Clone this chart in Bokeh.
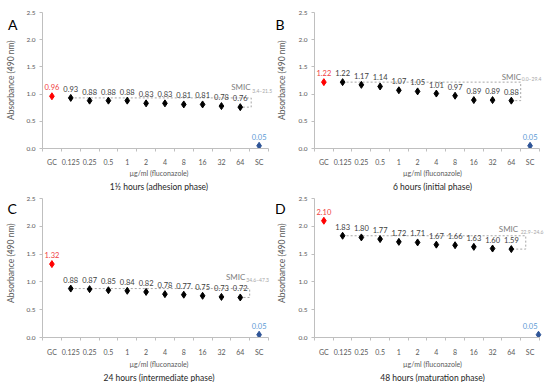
from math import pi
from bokeh.plotting import figure
from bokeh.layouts import column, row
from bokeh.models import (Range1d, FixedTicker, Label, ColumnDataSource, PrintfTickFormatter,
                          Title)
from bokeh.core.properties import value
from bokeh.embed import file_html
from bokeh.resources import INLINE

# ---------------- data ----------------
categories = ["GC", "0.125", "0.25", "0.5", "1", "2", "4", "8", "16", "32", "64", "SC"]
abs_adhesion = [0.96, 0.93, 0.88, 0.88, 0.88, 0.83, 0.83, 0.81, 0.81, 0.78, 0.76, 0.05]
abs_initial = [1.22, 1.22, 1.17, 1.14, 1.07, 1.05, 1.01, 0.97, 0.89, 0.89, 0.88, 0.05]
abs_intermediate = [1.32, 0.88, 0.87, 0.85, 0.84, 0.82, 0.78, 0.77, 0.75, 0.73, 0.72, 0.05]
abs_maturation = [2.10, 1.83, 1.80, 1.77, 1.72, 1.71, 1.67, 1.66, 1.63, 1.60, 1.59, 0.05]
panel_letters = ["A", "B", "C", "D"]
subtitles = ["1½ hours (adhesion phase)", "6 hours (initial phase)",
             "24 hours (intermediate phase)", "48 hours (maturation phase)"]
smic_ranges = ["3.4–21.5", "0.0–29.4", "34.6–47.3", "22.9–24.6"]
y_ticks = [0.0, 0.5, 1.0, 1.5, 2.0, 2.5]
x_label = "µg/ml (fluconazole)"
y_label = "Absorbance (490 nm)"

FONT = "Lato"
AXIS_COL = "#BFBFBF"
TICK_TXT = "#595959"
VAL_TXT = "#404040"
RED_M, RED_T = "#FF0000", "#F04040"
BLUE_M, BLUE_T = "#2F5597", "#5B9BD5"

SIDE_W = 20          # narrow strip holding the panel letter and the y-axis title
PANEL_W = 255
PANEL_H = 191

styles = [
    dict(bl=22, bt=12, bb=37, xend=11.87, tick_sd=6, xl_sd=0, t_off=-4,
         letter=(12.3, 16.5), ylab=(10.5, 95),
         smic=(10.03, 1.13), sub=(10.64, 1.05), brx=10.58, sc_shift=0.0),
    dict(bl=18, bt=12, bb=37, xend=12.09, tick_sd=6, xl_sd=0, t_off=-6,
         letter=(4.6, 17), ylab=(6.0, 95),
         smic=(10.0, 1.32), sub=(10.55, 1.28), brx=10.5, sc_shift=0.0),
    dict(bl=22, bt=7, bb=42, xend=11.87, tick_sd=7, xl_sd=1, t_off=-6,
         letter=(11.7, 14), ylab=(10.8, 89),
         smic=(9.75, 1.08), sub=(10.32, 1.03), brx=10.5, sc_shift=0.0),
    dict(bl=18, bt=7, bb=42, xend=12.09, tick_sd=7, xl_sd=1, t_off=-3,
         letter=(4.8, 13.5), ylab=(6.3, 89),
         smic=(9.85, 1.95), sub=(10.5, 1.89), brx=10.77, sc_shift=0.45),
]


def make_side(letter, st):
    s = figure(width=SIDE_W, height=PANEL_H, output_backend="svg", toolbar_location=None,
               x_range=Range1d(0, SIDE_W), y_range=Range1d(0, PANEL_H),
               x_axis_type=None, y_axis_type=None, min_border=0)
    s.outline_line_color = None
    s.xgrid.visible = False
    s.ygrid.visible = False
    s.text(x=[st["letter"][0]], y=[PANEL_H - st["letter"][1]], text=[letter],
           text_font=value(FONT), text_font_size="14px", text_color="black",
           text_align="center", text_baseline="middle")
    s.text(x=[st["ylab"][0]], y=[PANEL_H - st["ylab"][1]], text=[y_label], angle=pi / 2,
           text_font=value(FONT), text_font_size="8.5px", text_color=TICK_TXT,
           text_align="center", text_baseline="middle")
    return s


def make_panel(vals, subtitle, smic, st):
    n = len(categories)
    p = figure(width=PANEL_W, height=PANEL_H, output_backend="svg", toolbar_location=None,
               x_range=Range1d(-0.5, st["xend"]), y_range=Range1d(0, 2.5),
               min_border_left=st["bl"], min_border_right=0,
               min_border_top=st["bt"], min_border_bottom=st["bb"])
    p.outline_line_color = None
    p.xgrid.visible = False
    p.ygrid.visible = False

    # y axis
    ya = p.yaxis[0]
    ya.ticker = FixedTicker(ticks=y_ticks)
    ya.formatter = PrintfTickFormatter(format="%.1f")
    ya.axis_line_color = AXIS_COL
    ya.major_tick_line_color = AXIS_COL
    ya.major_tick_out = 3
    ya.major_tick_in = 0
    ya.minor_tick_line_color = None
    ya.major_label_text_font = FONT
    ya.major_label_text_font_size = "6.5px"
    ya.major_label_text_color = TICK_TXT
    ya.major_label_standoff = 4

    # x axis: labels at category centres, ticks at category boundaries
    xa = p.xaxis[0]
    xa.bounds = (-0.5, n - 0.5)
    xa.ticker = FixedTicker(ticks=list(range(n)), minor_ticks=[i - 0.5 for i in range(n + 1)])
    xa.major_label_overrides = {i: c for i, c in enumerate(categories)}
    xa.axis_line_color = AXIS_COL
    xa.major_tick_line_color = None
    xa.major_tick_out = 0
    xa.major_tick_in = 0
    xa.minor_tick_line_color = AXIS_COL
    xa.minor_tick_out = 3
    xa.minor_tick_in = 0
    xa.major_label_text_font = FONT
    xa.major_label_text_font_size = "7px"
    xa.major_label_text_color = TICK_TXT
    xa.major_label_standoff = st["tick_sd"]
    xa.axis_label = x_label
    xa.axis_label_text_font = FONT
    xa.axis_label_text_font_size = "7px"
    xa.axis_label_text_font_style = "normal"
    xa.axis_label_text_color = TICK_TXT
    xa.axis_label_standoff = st["xl_sd"]

    p.add_layout(Title(text=subtitle, align="center", text_font=FONT, text_font_size="8.5px",
                       text_font_style="normal", text_color="#262626", standoff=0,
                       offset=st["t_off"]), "below")

    # SMIC dashed bracket
    p.line([1, st["brx"], st["brx"], n - 2], [vals[1], vals[1], vals[n - 2], vals[n - 2]],
           line_color="#A6A6A6", line_dash="2 2", line_width=1)

    xs = list(range(n))
    xs[-1] = xs[-1] + st["sc_shift"]
    mcol = [RED_M] + ["black"] * (n - 2) + [BLUE_M]
    tcol = [RED_T] + [VAL_TXT] * (n - 2) + [BLUE_T]
    src = ColumnDataSource(dict(x=xs, xt=list(range(n)), y=vals, c=mcol, tc=tcol,
                                t=["%.2f" % v for v in vals]))
    p.scatter("x", "y", source=src, marker="diamond", size=7, fill_color="c", line_color="c")
    p.text("xt", "y", text="t", source=src, text_color="tc", text_font=value(FONT),
           text_font_size="7.5px", text_align="center", text_baseline="middle", y_offset=-9)

    p.add_layout(Label(x=st["smic"][0], y=st["smic"][1], text="SMIC", text_font=FONT,
                       text_font_size="8px", text_color="#808080", text_align="center",
                       text_baseline="middle"))
    p.add_layout(Label(x=st["sub"][0], y=st["sub"][1], text=smic, text_font=FONT,
                       text_font_size="5px", text_color="#A6A6A6", text_align="left",
                       text_baseline="middle"))
    return p


series = [abs_adhesion, abs_initial, abs_intermediate, abs_maturation]
sides = [make_side(panel_letters[i], styles[i]) for i in range(4)]
panels = [make_panel(series[i], subtitles[i], smic_ranges[i], styles[i]) for i in range(4)]

layout = column(row(sides[0], panels[0], sides[1], panels[1]),
                row(sides[2], panels[2], sides[3], panels[3]))
open("out.html", "w").write(file_html(layout, INLINE))
